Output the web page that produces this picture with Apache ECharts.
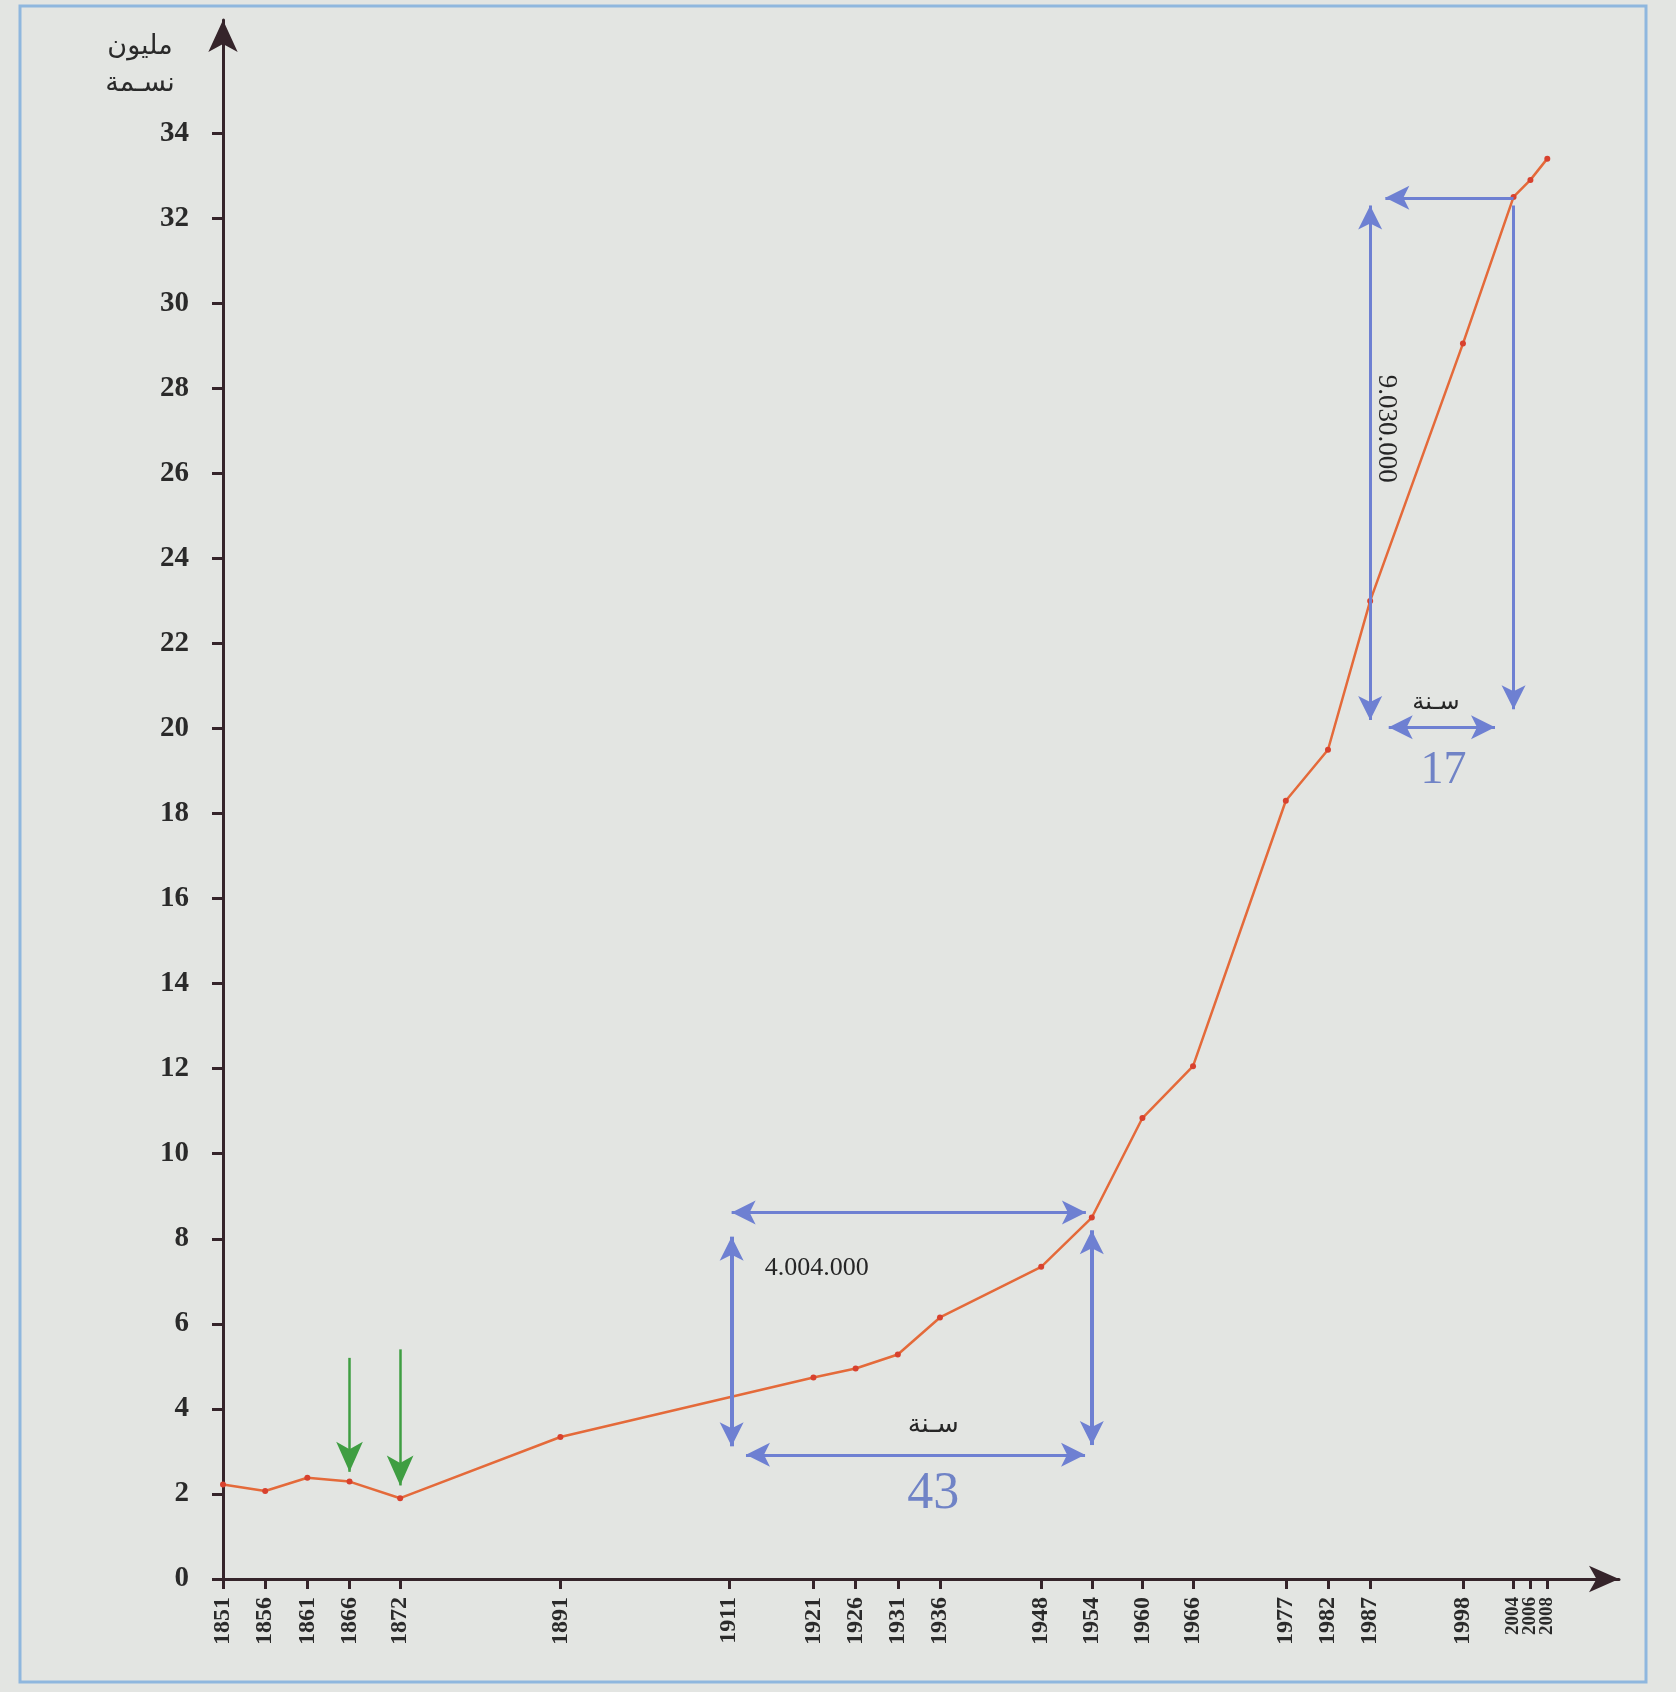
<!DOCTYPE html>
<html>
<head>
<meta charset="utf-8">
<script src="https://cdn.jsdelivr.net/npm/echarts@6/dist/echarts.min.js"></script>
<style>
html,body{margin:0;padding:0;background:#e3e5e2;}
#chart{width:1676px;height:1692px;}
</style>
</head>
<body>
<div id="chart"></div>
<script>
// ---- data ----
const years = [1851,1856,1861,1866,1872,1891,1921,1926,1931,1936,1948,1954,1960,1966,1977,1982,1987,1998,2004,2006,2008];
const population = [2.22,2.07,2.38,2.29,1.90,3.34,4.74,4.95,5.28,6.15,7.34,8.50,10.84,12.06,18.3,19.5,23.0,29.05,32.5,32.9,33.4];
const xTickYears = [1851,1856,1861,1866,1872,1891,1911,1921,1926,1931,1936,1948,1954,1960,1966,1977,1982,1987,1998,2004,2006,2008];
const yTicks = [0,2,4,6,8,10,12,14,16,18,20,22,24,26,28,30,32,34];

// annotation arrows: [start, end, heads, width]
const blueArrows = [
  [[1911.3, 8.62], [1953.3, 8.62], 'both', 3],
  [[1911.3, 8.05], [1911.3, 3.12], 'both', 4],
  [[1954.0, 8.2], [1954.0, 3.15], 'both', 4],
  [[1913.0, 2.92], [1953.2, 2.92], 'both', 3],
  [[2004.0, 32.48], [1988.8, 32.48], 'end', 3],
  [[1987.0, 32.3], [1987.0, 20.2], 'both', 3],
  [[2004.0, 32.3], [2004.0, 20.45], 'end', 3],
  [[1989.2, 20.03], [2001.8, 20.03], 'both', 3]
];
const greenArrows = [
  [[1866, 5.2], [1866, 2.52]],
  [[1872, 5.4], [1872, 2.2]]
];
const notes = [
  {text:'4.004.000', at:[1921.4, 7.31], size:26, color:'#262626', font:'Liberation Serif', rot:0},
  {text:'سـنة', at:[1935.2, 3.62], size:26, color:'#262626', font:'DejaVu Sans', rot:0},
  {text:'43', at:[1935.2, 2.0], size:52, color:'#7083c6', font:'Liberation Serif', rot:0},
  {text:'سـنة', at:[1994.8, 20.6], size:24, color:'#262626', font:'DejaVu Sans', rot:0},
  {text:'17', at:[1995.7, 19.0], size:46, color:'#7083c6', font:'Liberation Serif', rot:0},
  {text:'9.030.000', at:[1988.9, 27.05], size:27, color:'#262626', font:'Liberation Serif', rot:-Math.PI/2}
];

const axisColor = '#35242a';
const blue = '#6e80d2';
const green = '#3f9e42';

const chart = echarts.init(document.getElementById('chart'));

function arrowItems(list, color, size) {
  return list.map(a => {
    const heads = a[2] || 'end';
    const w = a[3] || 3;
    const ls = {color: color, width: w, type: 'solid'};
    return [
      {coord: a[0], symbol: heads === 'both' ? 'arrow' : 'none', symbolSize: size, lineStyle: ls},
      {coord: a[1], symbol: 'arrow', symbolSize: size, lineStyle: ls}
    ];
  });
}

const option = {
  backgroundColor: '#e3e5e2',
  animation: false,
  grid: {left: 223, right: 57, top: 20, bottom: 113},
  xAxis: {
    type: 'value', min: 1851, max: 2016.5,
    axisLine: {show: true, onZero: true, lineStyle: {color: axisColor, width: 3}, symbol: ['none', 'arrow'], symbolSize: [20, 30]},
    axisTick: {show: true, customValues: xTickYears, length: 10, lineStyle: {color: axisColor, width: 3}},
    axisLabel: {show: false},
    splitLine: {show: false}
  },
  yAxis: {
    type: 'value', min: 0, max: 36.66,
    axisLine: {show: true, lineStyle: {color: axisColor, width: 3}, symbol: ['none', 'arrow'], symbolSize: [22, 32]},
    axisTick: {show: true, customValues: yTicks, length: 11, lineStyle: {color: axisColor, width: 3}},
    axisLabel: {customValues: yTicks, margin: 34, hideOverlap: false, formatter: v => String(v),
      fontFamily: 'Liberation Serif', fontWeight: 'bold', fontSize: 29, color: '#2a2a2a'},
    splitLine: {show: false}
  },
  series: [
    {
      type: 'line',
      data: years.map((y, i) => [y, population[i]]),
      symbol: 'circle', symbolSize: 6,
      lineStyle: {color: '#e46a3a', width: 2.5},
      itemStyle: {color: '#d8412e'},
      silent: true,
      markLine: {
        silent: true, animation: false,
        label: {show: false},
        data: arrowItems(blueArrows, blue, [18, 24])
      },
      z: 3
    },
    {
      type: 'line',
      data: [[1851, null]],
      symbol: 'none',
      silent: true,
      markLine: {
        silent: true, animation: false,
        label: {show: false},
        data: arrowItems(greenArrows.map(g => [g[0], g[1], 'end', 2.5]), green, [20, 30])
      },
      z: 2
    }
  ]
};
chart.setOption(option);

const graphics = [
  {type: 'rect', shape: {x: 20, y: 6, width: 1626, height: 1676}, style: {fill: 'none', stroke: '#8fb7de', lineWidth: 3}, silent: true, z: 0},
  {type: 'text', x: 140, y: 47, style: {text: 'مليون', font: '27px "DejaVu Sans"', fill: '#2a2a2a', align: 'center', verticalAlign: 'middle'}},
  {type: 'text', x: 140, y: 84, style: {text: 'نسـمة', font: '27px "DejaVu Sans"', fill: '#2a2a2a', align: 'center', verticalAlign: 'middle'}}
];
// x-axis year labels, rotated, placed through the axis scale
xTickYears.forEach(yr => {
  const p = chart.convertToPixel({gridIndex: 0}, [yr, 0]);
  const small = yr >= 2004;
  graphics.push({
    type: 'text', x: p[0], y: p[1] + 18, rotation: Math.PI / 2,
    style: {text: String(yr), font: 'bold ' + (small ? 19 : 24) + 'px "Liberation Serif"', fill: '#2a2a2a', align: 'right', verticalAlign: 'middle'},
    z: 10
  });
});
notes.forEach(n => {
  const p = chart.convertToPixel({gridIndex: 0}, n.at);
  graphics.push({
    type: 'text', x: p[0], y: p[1], rotation: n.rot,
    style: {text: n.text, font: n.size + 'px "' + n.font + '"', fill: n.color, align: 'center', verticalAlign: 'middle'},
    z: 10
  });
});
chart.setOption({graphic: graphics});
</script>
</body>
</html>
